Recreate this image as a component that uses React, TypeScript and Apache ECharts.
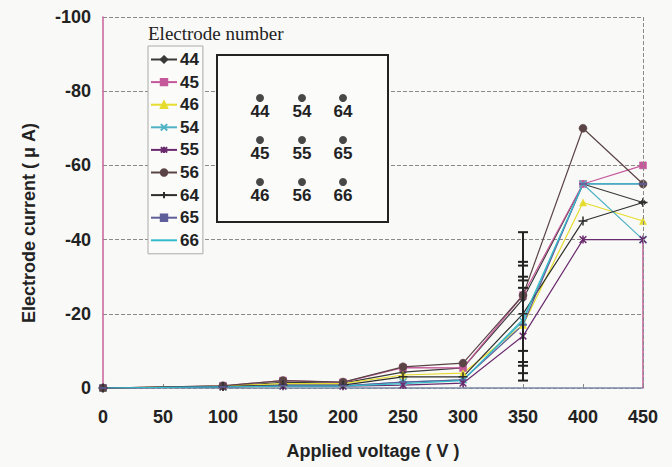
import React, { useEffect, useRef } from "react";
import * as echarts from "echarts";

const voltages = [0, 100, 150, 200, 250, 300, 350, 400, 450];
const s44 = [0, -0.5, -1.5, -1.3, -4.3, -5.4, -24, -55, -50];
const s45 = [0, -0.6, -2, -1.5, -5.5, -5.4, -25, -55, -60];
const s46 = [0, -0.5, -1.2, -1.2, -3.5, -4, -17, -50, -45];
const s54 = [0, -0.3, -0.6, -0.6, -1.6, -2.2, -18, -55, -40];
const s55 = [0, -0.3, -0.5, -0.5, -0.8, -1.3, -14, -40, -40];
const s56 = [0, -0.6, -2, -1.6, -5.7, -6.7, -25, -70, -55];
const s64 = [0, -0.4, -0.8, -0.8, -3, -3, -20, -45, -50];
const s65 = [0, -0.3, -0.6, -0.6, -1.6, -2.2, -17, -55, -55];
const s66 = [0, -0.3, -0.5, -0.5, -1.2, -2, -18.5, -55, -55];
const seriesNames = ["44", "45", "46", "54", "55", "56", "64", "65", "66"];
const seriesValues = [s44, s45, s46, s54, s55, s56, s64, s65, s66];

// scattered readings at 350 V (vertical bar of marks)
const bar350 = [-42, -34, -33, -30, -29, -27, -10, -7, -6, -4, -2];
const rightEdge = [-40, 0];

const yTicks = [-100, -80, -60, -40, -20, 0];
const xTicks = [0, 50, 100, 150, 200, 250, 300, 350, 400, 450];

const electrodeGrid = [
  ["44", "54", "64"],
  ["45", "55", "65"],
  ["46", "56", "66"],
];

const SANS = "'Liberation Sans', Arial, sans-serif";

const styles: any = {
  "44": { color: "#3a3a3a", symbol: "diamond", size: 7 },
  "45": { color: "#c4589a", symbol: "rect", size: 7 },
  "46": { color: "#e6dc2e", symbol: "triangle", size: 7 },
  "54": { color: "#4fb3c4", symbol: "path://M0,0L10,10M10,0L0,10", size: 7, stroke: true },
  "55": { color: "#6a2a6e", symbol: "path://M0,0L10,10M10,0L0,10M5,-1L5,11", size: 8, stroke: true },
  "56": { color: "#5b4446", symbol: "circle", size: 8 },
  "64": { color: "#2e2e2e", symbol: "path://M5,0L5,10M0,5L10,5", size: 9, stroke: true },
  "65": { color: "#5e5e9a", symbol: "path://M0,4L10,4L10,6L0,6Z", size: 7 },
  "66": { color: "#35bccb", symbol: "none", size: 0 },
};

export default function App() {
  const ref = useRef<HTMLDivElement>(null);
  useEffect(() => {
    if (!ref.current) return;
    const chart = echarts.init(ref.current, null, { renderer: "svg" });

    const series: any[] = seriesNames.map((name, i) => {
      const st = styles[name];
      return {
        name,
        type: "line",
        data: voltages.map((v, j) => [v, seriesValues[i][j]]),
        symbol: st.symbol,
        symbolSize: st.size,
        symbolKeepAspect: true,
        lineStyle: { color: st.color, width: 1.2 },
        itemStyle: st.stroke
          ? { color: st.color, borderColor: st.color, borderWidth: 1.5 }
          : { color: st.color, borderColor: st.color, borderWidth: 0.5 },
        z: 3,
      };
    });

    series.push({
      name: "bar350",
      type: "line",
      data: bar350.map((v) => [350, v]),
      symbol: "rect",
      symbolSize: [10, 2],
      lineStyle: { color: "#222", width: 2 },
      itemStyle: { color: "#222" },
      z: 4,
    });
    series.push({
      name: "edge",
      type: "line",
      data: rightEdge.map((v) => [450, v]),
      symbol: "none",
      lineStyle: { color: "#c4589a", width: 1.5 },
      markLine: {
        silent: true,
        symbol: "none",
        label: { show: false },
        lineStyle: { color: "#8a8a8a", type: "dashed", width: 1 },
        data: [{ xAxis: 450 }],
      },
      z: 2,
    });

    const graphics: any[] = [
      {
        type: "text",
        left: 148,
        top: 24,
        style: {
          text: "Electrode number",
          fill: "#222",
          font: "19px 'Liberation Serif', 'DejaVu Serif', serif",
        },
        z: 10,
      },
      {
        type: "text",
        x: 29,
        y: 223,
        rotation: Math.PI / 2,
        style: {
          text: "Electrode current ( μ A)",
          fill: "#222",
          font: `bold 18px ${SANS}`,
          textAlign: "center",
          textVerticalAlign: "middle",
        },
        z: 10,
      },
      {
        type: "rect",
        shape: { x: 217, y: 55, width: 171, height: 167 },
        style: { fill: "#fbfbfa", stroke: "#222", lineWidth: 2 },
        z: 10,
      },
    ];
    const colX = [260, 302, 343];
    const rowY = [98, 140, 182];
    electrodeGrid.forEach((row, r) =>
      row.forEach((lab, c) => {
        graphics.push({
          type: "circle",
          shape: { cx: colX[c], cy: rowY[r], r: 4 },
          style: { fill: "#484848" },
          z: 11,
        });
        graphics.push({
          type: "text",
          x: colX[c],
          y: rowY[r] + 5,
          style: {
            text: lab,
            fill: "#222",
            font: `bold 17px ${SANS}`,
            textAlign: "center",
            textVerticalAlign: "top",
          },
          z: 11,
        });
      })
    );

    chart.setOption({
      animation: false,
      backgroundColor: "#f9f9f7",
      grid: { left: 103, right: 29, top: 17, bottom: 79 },
      xAxis: {
        type: "value",
        min: 0,
        max: 450,
        interval: 50,
        name: "Applied voltage ( V )",
        nameLocation: "middle",
        nameGap: 54,
        nameTextStyle: { fontSize: 18, fontFamily: SANS, color: "#222", fontWeight: "bold" },
        axisLine: { lineStyle: { color: "#7b88a6", width: 1.5 } },
        axisTick: { inside: true, length: 4, lineStyle: { color: "#888" } },
        axisLabel: {
          margin: 20,
          fontSize: 18,
          fontFamily: SANS,
          fontWeight: "bold",
          color: "#222",
          formatter: (v: number) => (xTicks.includes(v) ? String(v) : ""),
        },
        splitLine: { show: false },
      },
      yAxis: {
        type: "value",
        min: -100,
        max: 0,
        interval: 20,
        inverse: true,
        axisLine: { show: true, lineStyle: { color: "#c8609c", width: 1.5 } },
        axisTick: { show: false },
        axisLabel: {
          margin: 12,
          fontSize: 18,
          fontFamily: SANS,
          fontWeight: "bold",
          color: "#222",
          formatter: (v: number) => (yTicks.includes(v) ? String(v) : ""),
        },
        splitLine: { show: true, lineStyle: { color: "#8a8a8a", type: "dashed", width: 1 } },
      },
      legend: {
        data: seriesNames.map((n) =>
          n === "66" ? { name: n, itemStyle: { opacity: 0 } } : n
        ),
        orient: "vertical",
        left: 148,
        top: 46,
        itemWidth: 26,
        itemHeight: 8,
        itemGap: 5.6,
        symbolKeepAspect: true,
        padding: [5, 4, 5, 2],
        borderColor: "#aaa",
        borderWidth: 1,
        backgroundColor: "#fbfbfa",
        textStyle: {
          fontSize: 17,
          fontFamily: SANS,
          fontWeight: "bold",
          color: "#222",
          padding: [0, 0, 0, -2],
        },
      },
      graphic: graphics,
      series,
    });
    return () => chart.dispose();
  }, []);
  return <div ref={ref} style={{ width: 672, height: 467, position: "absolute", left: 0, top: 0 }} />;
}
